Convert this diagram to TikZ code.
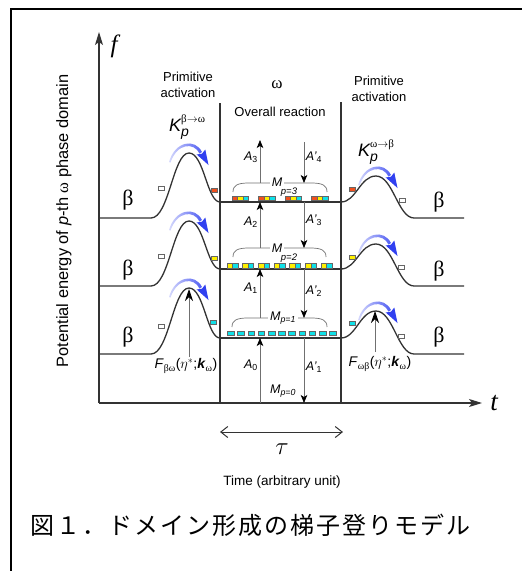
\documentclass[tikz,border=0pt]{standalone}
\usepackage{fontspec}
\setmainfont{Liberation Sans}
\newfontfamily\grk{Liberation Serif}
\newfontfamily\cjk{Noto Sans CJK JP}
\usetikzlibrary{arrows.meta}
\definecolor{sqor}{HTML}{F0501E}
\definecolor{sqye}{HTML}{FFF000}
\definecolor{sqcy}{HTML}{10E0E8}
\definecolor{ink}{HTML}{333333}
\definecolor{shaft}{HTML}{707070}
\definecolor{arcblue}{HTML}{3040F0}
\newcommand\cjc[1]{\makebox[26pt]{#1}}
\begin{document}
\begin{tikzpicture}[x=1pt,y=-1pt,
 frame/.style={line width=1.4pt, black},
 axis/.style={line width=1.2pt, ink, -{Stealth[length=13pt,width=8pt,inset=3pt]}},
 wall/.style={line width=2.2pt, ink},
 level/.style={line width=1.8pt, ink},
 pot/.style={line width=1.3pt, ink},
 rx/.style={line width=0.8pt, shaft, -{Stealth[length=8pt,width=6.5pt,inset=2pt,color=black]}},
 farrow/.style={line width=0.8pt, shaft, -{Stealth[length=12pt,width=8pt,inset=4pt,color=black]}},
 tauarrow/.style={line width=1pt, ink, {Straight Barb[length=7pt,width=11pt]}-{Straight Barb[length=7pt,width=11pt]}},
 brace/.style={line width=0.7pt, shaft},
 lbl/.style={font=\fontsize{13}{16}\selectfont, align=center, inner sep=0pt},
 alab/.style={font=\fontsize{12.5}{12.5}\selectfont\itshape, inner sep=0pt},
 plab/.style={font=\fontsize{9.5}{9.5}\selectfont\itshape, inner sep=0pt},
 betalab/.style={font=\grk\fontsize{22}{22}\selectfont, inner sep=0pt},
 sqbox/.style={draw=black!60, line width=0.5pt},
 bluearc/.pic={
   \shade[left color=arcblue!20, right color=arcblue!85] (-20,9) .. controls (-14,-12) and (6,-15) .. (13,-1) -- (10.5,0.5) .. controls (5,-11) and (-12,-10) .. (-18.5,9.5) -- cycle;
   \fill[arcblue] (19.5,12) -- (7.7,1.5) -- (13,0.7) -- (16.3,-3.5) -- cycle;
 }
]
\useasboundingbox (0,0) rectangle (522,571);
% frame
\draw[frame] (11,571) -- (11,9) -- (522,9);
% axes
\coordinate (O) at (99,403);
\coordinate (ytop) at (99,32);
\coordinate (xend) at (482,403);
\draw[axis] (O) -- (ytop);
\draw[axis] (O) -- (xend);
\node (flab) at (114,46) {\grk\itshape\fontsize{25}{25}\selectfont f};
\node (tlab) at (494,403) {\grk\itshape\fontsize{27}{27}\selectfont t};
% walls
\coordinate (wl1) at (220,103); \coordinate (wl0) at (220,403);
\coordinate (wr1) at (341,102); \coordinate (wr0) at (341,403);
\draw[wall] (wl1) -- (wl0);
\draw[wall] (wr1) -- (wr0);
% potential curves and levels
\foreach \yb/\yw/\yp/\yr in {218/202/153/176, 286/269/221/244, 354/338/288/311} {
 \draw[pot] (99,\yb) -- (151,\yb) .. controls (169,\yb) and (173,\yp) .. (189,\yp) .. controls (204,\yp) and (207,\yw) .. (220,\yw);
 \draw[level] (220,\yw) -- (341,\yw);
 \draw[pot] (341,\yw) .. controls (356,\yw) and (360,\yr) .. (376,\yr) .. controls (393,\yr) and (398,\yb) .. (414,\yb) -- (464,\yb);
 \pic at (189,\yp) {bluearc};
 \pic at (378,\yr) {bluearc};
}
% side squares
\foreach \x/\y/\c in {161/188/white, 214/190/sqor, 352/189/sqor, 402/200/white,
                      161/256/white, 214/258/sqye, 352/257/sqye, 401/267/white,
                      161/326/white, 213/322/sqcy, 352/323/sqcy, 401/336/white} {
 \filldraw[sqbox, fill=\c] ({\x-3},{\y-2.25}) rectangle ++(6,4.5);
}
% middle squares p=3
\foreach \gx in {232,258.5,285,311.5} {
 \filldraw[sqbox, fill=sqor] (\gx,196) rectangle ++(5.5,4.5);
 \filldraw[sqbox, fill=sqye] ({\gx+5.5},196) rectangle ++(5.5,4.5);
 \filldraw[sqbox, fill=sqcy] ({\gx+11},196) rectangle ++(5.5,4.5);
}
% p=2
\foreach \k [evaluate=\k as \gx using 227+15.67*\k] in {0,...,6} {
 \filldraw[sqbox, fill=sqye] (\gx,263.5) rectangle ++(5.5,4.5);
 \filldraw[sqbox, fill=sqcy] ({\gx+5.5},263.5) rectangle ++(5.5,4.5);
}
% p=1
\foreach \k [evaluate=\k as \gx using 227.5+10.2*\k] in {0,...,10} {
 \filldraw[sqbox, fill=sqcy] (\gx,331) rectangle ++(6.5,4.5);
}
% brackets
\foreach \yb/\xa/\xb in {183/233/327, 248/233/326, 318/232/327} {
 \draw[brace] (\xa,{\yb+9}) .. controls (\xa,{\yb+2}) and ({\xa+5},\yb) .. ({\xa+16},\yb) -- ({\xb-16},\yb) .. controls ({\xb-5},\yb) and (\xb,{\yb+2}) .. (\xb,{\yb+9});
}
\node[alab, fill=white, inner xsep=2pt] (m3) at (277,182) {M};
\node[plab] (p3) at (289,192) {p=3};
\node[alab, fill=white, inner xsep=2pt] (m2) at (277,248) {M};
\node[plab] (p2) at (289,258) {p=2};
\node[alab, fill=white, inner xsep=2pt] (m1) at (283,318) {M\textsubscript{p=1}};
\node[alab] (m0) at (283,391) {M\textsubscript{p=0}};
% reaction arrows
\coordinate (u3a) at (260,183); \coordinate (u3b) at (260,140);
\coordinate (u2a) at (260,248); \coordinate (u2b) at (260,202);
\coordinate (u1a) at (260,318); \coordinate (u1b) at (260,269);
\coordinate (u0a) at (260,403); \coordinate (u0b) at (260,338);
\coordinate (d4a) at (304,142); \coordinate (d4b) at (304,183);
\coordinate (d3a) at (304,202); \coordinate (d3b) at (304,248);
\coordinate (d2a) at (304,269); \coordinate (d2b) at (304,318);
\coordinate (d1a) at (304,338); \coordinate (d1b) at (304,403);
\draw[rx] (u3a) -- (u3b);
\draw[rx] (u2a) -- (u2b);
\draw[rx] (u1a) -- (u1b);
\draw[rx] (u0a) -- (u0b);
\draw[rx] (d4a) -- (d4b);
\draw[rx] (d3a) -- (d3b);
\draw[rx] (d2a) -- (d2b);
\draw[rx] (d1a) -- (d1b);
\node[alab] (la3) at (251,157) {A\textsubscript{\upshape 3}};
\node[alab] (la2) at (251,222) {A\textsubscript{\upshape 2}};
\node[alab] (la1) at (251,288) {A\textsubscript{\upshape 1}};
\node[alab] (la0) at (251,365) {A\textsubscript{\upshape 0}};
\node[alab] (lb4) at (314,157) {A\textquoteright\textsubscript{\upshape 4}};
\node[alab] (lb3) at (314,220) {A\textquoteright\textsubscript{\upshape 3}};
\node[alab] (lb2) at (314,291) {A\textquoteright\textsubscript{\upshape 2}};
\node[alab] (lb1) at (314,367) {A\textquoteright\textsubscript{\upshape 1}};
% F arrows
\coordinate (fl0) at (189,357); \coordinate (fl1) at (189,289);
\coordinate (fr0) at (375,352); \coordinate (fr1) at (375,311);
\draw[farrow] (fl0) -- (fl1);
\draw[farrow] (fr0) -- (fr1);
\node[font=\fontsize{14}{14}\selectfont, inner sep=0pt] (flabl) at (186,366) {\textit{F}\textsubscript{\grk βω}($\eta^{*}$;\textbf{\textit{k}}\textsubscript{\grk ω})};
\node[font=\fontsize{14}{14}\selectfont, inner sep=0pt] (flabr) at (380,364) {\textit{F}\textsubscript{\grk ωβ}($\eta^{*}$;\textbf{\textit{k}}\textsubscript{\grk ω})};
% K labels
\node[anchor=west, inner sep=0pt] (kl) at (169,127) {{\fontsize{18}{18}\selectfont\itshape K}\rlap{\raisebox{9pt}{\grk\fontsize{11}{11}\selectfont β$\rightarrow$ω}}\raisebox{-5pt}{\fontsize{14}{14}\selectfont\itshape p}};
\node[anchor=west, inner sep=0pt] (kr) at (358,152) {{\fontsize{18}{18}\selectfont\itshape K}\rlap{\raisebox{9pt}{\grk\fontsize{11}{11}\selectfont ω$\rightarrow$β}}\raisebox{-5pt}{\fontsize{14}{14}\selectfont\itshape p}};
% beta labels
\node[betalab] (bl3) at (128,200) {β};
\node[betalab] (bl2) at (128,270) {β};
\node[betalab] (bl1) at (128,337) {β};
\node[betalab] (br3) at (439,202) {β};
\node[betalab] (br2) at (439,271) {β};
\node[betalab] (br1) at (439,337) {β};
% header labels
\node[lbl] (pal) at (188,85) {Primitive\\activation};
\node[lbl] (par) at (379,89) {Primitive\\activation};
\node (omg) at (277,85) {\grk\fontsize{17}{17}\selectfont ω};
\node[lbl] (ovr) at (280,112) {Overall reaction};
% y label
\node[rotate=90, font=\fontsize{16.4}{16.4}\selectfont, inner sep=0pt] (ylab) at (64,221) {Potential energy of \textit{p}-th {\grk ω} phase domain};
% tau
\coordinate (tl) at (220,432); \coordinate (tr) at (343,432);
\draw[tauarrow] (tl) -- (tr);
\node (tau) at (282,449) {\fontsize{28}{28}\selectfont$\tau$};
\node[font=\fontsize{13.5}{16}\selectfont, inner sep=0pt] (time) at (282,482) {Time (arbitrary unit)};
% caption
\node[anchor=west, inner sep=0pt, font=\cjk\fontsize{24}{24}\selectfont] (cap) at (29,525) {\cjc{図}\cjc{１}\cjc{．}\cjc{ド}\cjc{メ}\cjc{イ}\cjc{ン}\cjc{形}\cjc{成}\cjc{の}\cjc{梯}\cjc{子}\cjc{登}\cjc{り}\cjc{モ}\cjc{デ}\cjc{ル}};
\end{tikzpicture}
\end{document}
